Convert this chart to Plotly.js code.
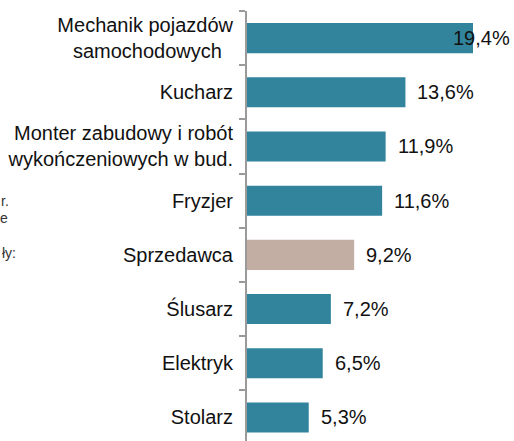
<!DOCTYPE html>
<html>
<head>
<meta charset="utf-8">
<script src="https://cdn.plot.ly/plotly-3.0.1.min.js"></script>
<style>html,body{margin:0;padding:0;background:#fff;}#chart{width:514px;height:441px;}</style>
</head>
<body>
<div id="chart"></div>
<script>
// Data (top to bottom as shown)
const categories = [
  "Mechanik pojazdów<br>samochodowych\u00a0\u00a0",
  "Kucharz",
  "Monter zabudowy i robót<br>wykończeniowych w bud.",
  "Fryzjer",
  "Sprzedawca",
  "Ślusarz",
  "Elektryk",
  "Stolarz"
];
const values = [19.4, 13.6, 11.9, 11.6, 9.2, 7.2, 6.5, 5.3];
const valueLabels = ["19,4%", "13,6%", "11,9%", "11,6%", "9,2%", "7,2%", "6,5%", "5,3%"];
const highlight = "Sprzedawca";
const sideTexts = ["r.", "e", "ły:"];

const TEAL = "#31849B";
const BEIGE = "#C3AEA4";
const FONT = "Liberation Sans, Arial, sans-serif";

// bottom-to-top for plotting
const cats = categories.slice().reverse();
const vals = values.slice().reverse();
const labs = valueLabels.slice().reverse();

const trace = {
  type: "bar",
  orientation: "h",
  y: cats,
  x: vals,
  width: 0.555,
  marker: {color: cats.map(c => c === highlight ? BEIGE : TEAL)},
  hoverinfo: "skip"
};

const annotations = cats.map((c, i) => ({
  x: vals[i], y: c, xref: "x", yref: "y",
  text: labs[i], showarrow: false,
  xanchor: "left", yanchor: "middle",
  xshift: vals[i] > 18 ? -22 : 10,
  font: {family: FONT, size: 20, color: "#111"}
}));

const sidePos = [[11, 201], [10, 218], [18, 253]];
sideTexts.forEach((t, i) => {
  annotations.push({
    x: 0, xref: "paper", xanchor: "right",
    xshift: -(247 - sidePos[i][0]),
    y: 1 - (sidePos[i][1] - 11) / 430, yref: "paper", yanchor: "middle",
    text: t, showarrow: false,
    font: {family: FONT, size: 14, color: "#333"}
  });
});

const layout = {
  width: 514, height: 441,
  margin: {l: 247, r: 0, t: 11, b: 0, pad: 0},
  paper_bgcolor: "#fff", plot_bgcolor: "#fff",
  showlegend: false,
  xaxis: {
    range: [0, 22.92], visible: false, fixedrange: true
  },
  yaxis: {
    type: "category",
    categoryorder: "array", categoryarray: cats,
    range: [-0.434, 7.5],
    showline: true, linecolor: "#9a9a9a", linewidth: 2,
    ticks: "outside", tickson: "boundaries", ticklen: 6, tickwidth: 2, tickcolor: "#9a9a9a",
    ticklabelstandoff: 8,
    showgrid: false, zeroline: false,
    tickfont: {family: FONT, size: 20, color: "#111"},
    fixedrange: true
  },
  annotations: annotations
};

Plotly.newPlot("chart", [trace], layout, {displayModeBar: false, staticPlot: true});
</script>
</body>
</html>
